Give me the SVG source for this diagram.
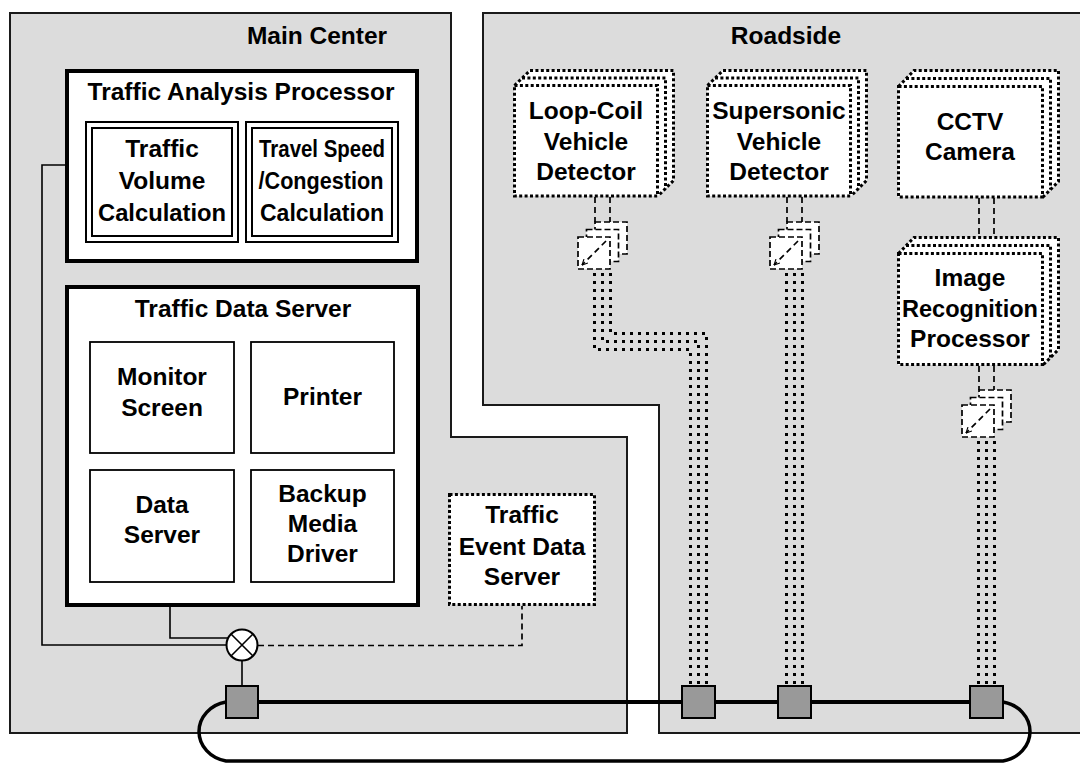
<svg xmlns="http://www.w3.org/2000/svg" width="1080" height="765" viewBox="0 0 1080 765">
  <defs>
    <style>
      .zone { fill: #dcdcdc; stroke: #1a1a1a; stroke-width: 2; }
      .thick { fill: #ffffff; stroke: #000; stroke-width: 4; }
      .thin { fill: #ffffff; stroke: #000; stroke-width: 1.8; }
      .dbl { fill: none; stroke: #000; stroke-width: 2; }
      .dot { fill: none; stroke: #000; stroke-width: 3; stroke-dasharray: 3 2.4; }
      .dotbox { fill: #ffffff; stroke: #000; stroke-width: 3; stroke-dasharray: 3 2.4; }
      .white { fill: #ffffff; stroke: none; }
      .link { fill: none; stroke: #000; stroke-width: 1.6; }
      .dash { fill: none; stroke: #000; stroke-width: 1.7; stroke-dasharray: 6 4; }
      .conv { fill: #ffffff; stroke: #000; stroke-width: 1.7; stroke-dasharray: 6 3; }
      .wire { fill: none; stroke: #000; stroke-width: 3; stroke-dasharray: 3 5; }
      .bus { fill: none; stroke: #000; stroke-width: 4; }
      .loop { fill: none; stroke: #000; stroke-width: 3.5; }
      .node { fill: #999999; stroke: #000; stroke-width: 2; }
      text { font-family: "Liberation Sans", Arial, sans-serif; font-weight: bold; font-size: 24.5px; fill: #000; text-anchor: middle; }
    </style>
    <marker id="ah" viewBox="0 0 10 10" refX="9" refY="5" markerWidth="7" markerHeight="7" orient="auto" markerUnits="userSpaceOnUse">
      <path d="M1,1 L9,5 L1,9" fill="none" stroke="#000" stroke-width="1.6"/>
    </marker>
  </defs>

  <!-- zones -->
  <g id="main-center">
    <path class="zone" d="M10,13 H451 V437 H627 V733 H10 Z"/>
    <text x="317" y="44">Main Center</text>
  </g>
  <g id="roadside">
    <path class="zone" d="M483,13 H1084 V733 H659 V405 H483 Z"/>
    <text x="786" y="44">Roadside</text>
  </g>

  <!-- connectors -->
  <g id="connectors">
    <!-- center wiring -->
    <path class="link" d="M65,165 H42 V645 H226.5"/>
    <path class="link" d="M170,582 V638 H228.5"/>
    <path class="link" d="M242,660.5 V686"/>
    <path class="link" d="M170,453 V470"/>
    <path class="link" d="M251,453 L234,470"/>
    <path class="link" d="M234,526 H251"/>
    <path class="dash" d="M258,645.5 H522 V606"/>
    <!-- detector to converter links -->
    <path class="dash" d="M595,197 V222 M610,197 V222"/>
    <path class="dash" d="M787,197 V222 M802,197 V222"/>
    <path class="dash" d="M979,198 V237 M994,198 V237"/>
    <path class="dash" d="M979,366 V390 M994,366 V390"/>
    <!-- roadside cabling to nodes -->
    <path class="wire" d="M594.5,273 V349.5 H690.5 V685"/>
    <path class="wire" d="M602.5,273 V341.5 H698.5 V685"/>
    <path class="wire" d="M610.5,273 V333.5 H706.5 V685"/>
    <path class="wire" d="M786.5,273 V685 M794.5,273 V685 M802.5,273 V685"/>
    <path class="wire" d="M978.5,441 V685 M986.5,441 V685 M994.5,441 V685"/>
    <!-- ring bus -->
    <path class="bus" d="M258,702 H970"/>
    <path class="loop" d="M226,702 A33,30 0 0 0 226,761 H1003 A33,30 0 0 0 1003,702"/>
  </g>

  <!-- Traffic Analysis Processor -->
  <g id="traffic-analysis-processor">
    <rect class="thick" x="67" y="71" width="350" height="190"/>
    <text x="241" y="100">Traffic Analysis Processor</text>
  </g>
  <g id="traffic-volume-calculation">
    <rect class="dbl" x="86" y="122" width="152" height="120"/>
    <rect class="dbl" x="92" y="128" width="140" height="108"/>
    <text x="162" y="157">Traffic</text>
    <text x="162" y="189">Volume</text>
    <text x="162" y="221" textLength="128" lengthAdjust="spacingAndGlyphs">Calculation</text>
  </g>
  <g id="travel-speed-calculation">
    <rect class="dbl" x="246" y="122" width="152" height="120"/>
    <rect class="dbl" x="252" y="128" width="140" height="108"/>
    <text x="322" y="157" textLength="126" lengthAdjust="spacingAndGlyphs">Travel Speed</text>
    <text x="321" y="189" textLength="125" lengthAdjust="spacingAndGlyphs">/Congestion</text>
    <text x="322" y="221" textLength="124" lengthAdjust="spacingAndGlyphs">Calculation</text>
  </g>

  <!-- Traffic Data Server -->
  <g id="traffic-data-server">
    <rect class="thick" x="67" y="287" width="351" height="318"/>
    <text x="243" y="317">Traffic Data Server</text>
  </g>
  <g id="monitor-screen">
    <rect class="thin" x="90" y="342" width="144" height="111"/>
    <text x="162" y="385">Monitor</text>
    <text x="162" y="416">Screen</text>
  </g>
  <g id="printer">
    <rect class="thin" x="251" y="342" width="143" height="111"/>
    <text x="322.5" y="405">Printer</text>
  </g>
  <g id="data-server">
    <rect class="thin" x="90" y="470" width="144" height="112"/>
    <text x="162" y="513">Data</text>
    <text x="162" y="543">Server</text>
  </g>
  <g id="backup-media-driver">
    <rect class="thin" x="251" y="470" width="143" height="112"/>
    <text x="322.5" y="502">Backup</text>
    <text x="322.5" y="532">Media</text>
    <text x="322.5" y="562">Driver</text>
  </g>

  <!-- Traffic Event Data Server -->
  <g id="traffic-event-data-server">
    <rect class="dotbox" x="449.5" y="494.5" width="145" height="110"/>
    <text x="522" y="523">Traffic</text>
    <text x="522" y="555">Event Data</text>
    <text x="522" y="585">Server</text>
  </g>

  <!-- junction -->
  <g id="junction">
    <circle cx="242" cy="645" r="15.5" fill="#fff" stroke="#000" stroke-width="2"/>
    <path class="link" d="M231,634 L253,656 M253,634 L231,656"/>
  </g>

  <!-- roadside detectors -->
  <g id="loop-coil-detector">
    <path class="white" d="M514,85.5 L530,70 H674 V180.5 L658,196 H514 Z"/>
    <path class="dot" d="M514.5,85.5 L530,70.5 H673.5 V180.5 L658,196"/>
    <path class="dot" d="M522,78 H665.5 V188.5"/>
    <rect class="dot" x="514.5" y="85.5" width="143" height="110.5"/>
    <text x="586" y="119">Loop-Coil</text>
    <text x="586" y="150">Vehicle</text>
    <text x="586" y="180">Detector</text>
  </g>
  <g id="supersonic-detector">
    <path class="white" d="M707,85.5 L723,70 H867 V180.5 L851,196 H707 Z"/>
    <path class="dot" d="M707.5,85.5 L723,70.5 H866.5 V180.5 L851,196"/>
    <path class="dot" d="M715,78 H858.5 V188.5"/>
    <rect class="dot" x="707.5" y="85.5" width="143" height="110.5"/>
    <text x="779" y="119">Supersonic</text>
    <text x="779" y="150">Vehicle</text>
    <text x="779" y="180">Detector</text>
  </g>
  <g id="cctv-camera">
    <path class="white" d="M898,86 L914,70.5 H1059 V181.5 L1043,197 H898 Z"/>
    <path class="dot" d="M898.5,86.5 L914,70.5 H1058.5 V181.5 L1043,197"/>
    <path class="dot" d="M906,78.5 H1050.5 V189.5"/>
    <rect class="dot" x="898.5" y="86.5" width="144" height="110.5"/>
    <text x="970" y="130">CCTV</text>
    <text x="970" y="160">Camera</text>
  </g>
  <g id="image-recognition-processor">
    <path class="white" d="M898,253 L914,237.5 H1059 V349.5 L1043,365 H898 Z"/>
    <path class="dot" d="M898.5,253.5 L914,237.5 H1058.5 V349.5 L1043,365"/>
    <path class="dot" d="M906,245.5 H1050.5 V357.5"/>
    <rect class="dot" x="898.5" y="253.5" width="144" height="111"/>
    <text x="970" y="286">Image</text>
    <text x="970" y="317" textLength="136" lengthAdjust="spacingAndGlyphs">Recognition</text>
    <text x="970" y="347">Processor</text>
  </g>

  <!-- signal converters -->
  <g id="converter-loop-coil">
    <rect class="conv" x="595" y="222" width="32" height="32"/>
    <rect class="conv" x="586.5" y="229.5" width="32" height="32"/>
    <rect class="conv" x="578" y="237" width="32" height="32"/>
    <path class="dash" d="M606,241 L582,265" marker-end="url(#ah)"/>
  </g>
  <g id="converter-supersonic">
    <rect class="conv" x="787" y="222" width="32" height="32"/>
    <rect class="conv" x="778.5" y="229.5" width="32" height="32"/>
    <rect class="conv" x="770" y="237" width="32" height="32"/>
    <path class="dash" d="M798,241 L774,265" marker-end="url(#ah)"/>
  </g>
  <g id="converter-image">
    <rect class="conv" x="979" y="390" width="32" height="32"/>
    <rect class="conv" x="970.5" y="397.5" width="32" height="32"/>
    <rect class="conv" x="962" y="405" width="32" height="32"/>
    <path class="dash" d="M990,409 L966,433" marker-end="url(#ah)"/>
  </g>

  <!-- network nodes -->
  <g id="node-center"><rect class="node" x="226" y="686" width="32" height="32"/></g>
  <g id="node-loop-coil"><rect class="node" x="682" y="686" width="33" height="32"/></g>
  <g id="node-supersonic"><rect class="node" x="778" y="686" width="33" height="32"/></g>
  <g id="node-image"><rect class="node" x="970" y="686" width="33" height="32"/></g>
</svg>
